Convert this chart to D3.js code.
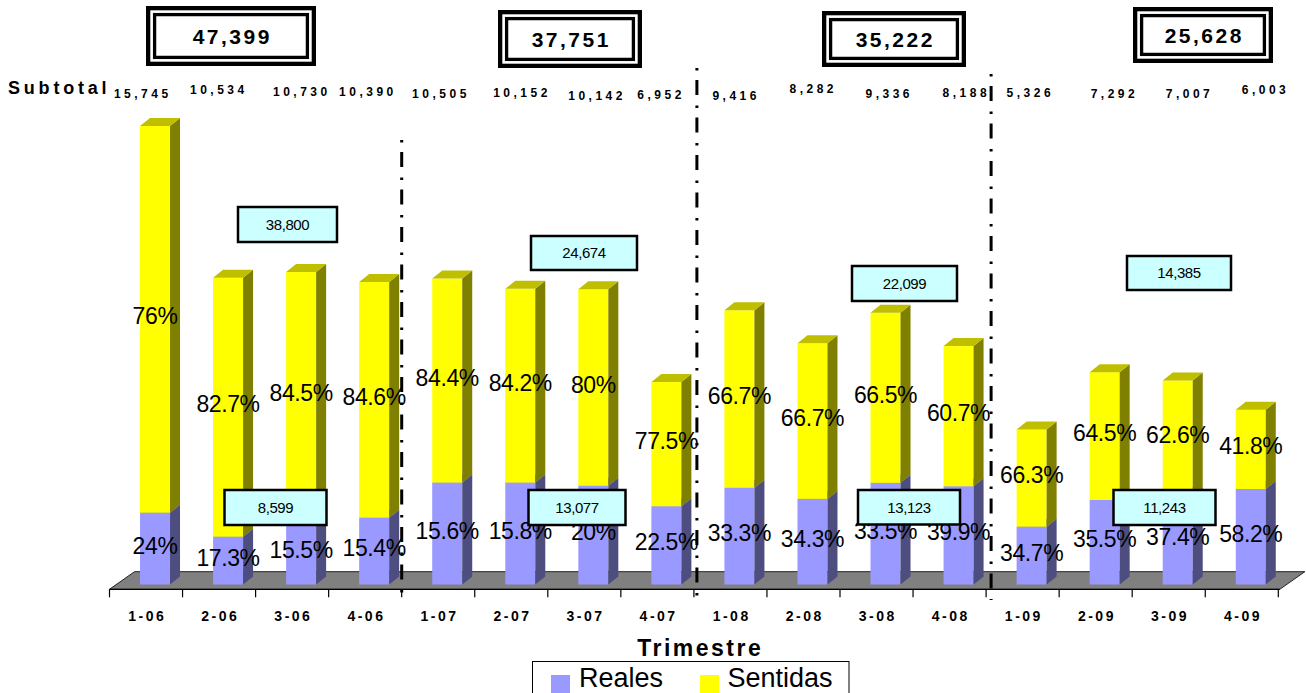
<!DOCTYPE html>
<html><head><meta charset="utf-8">
<script src="https://cdn.jsdelivr.net/npm/d3@7"></script>
<style>
html,body{margin:0;padding:0;background:#fff;overflow:hidden}
svg{display:block;font-family:"Liberation Sans",Arial,sans-serif}
</style></head><body>
<svg id="chart" width="1306" height="693"></svg>
<script>
// ---------------- DATA ----------------
const categories = ["1-06","2-06","3-06","4-06","1-07","2-07","3-07","4-07","1-08","2-08","3-08","4-08","1-09","2-09","3-09","4-09"];
const subtotals = [15745,10534,10730,10390,10505,10152,10142,6952,9416,8282,9336,8188,5326,7292,7007,6003];
const reales = [2466,1641,2198,2294,3500,3500,3390,2687,3320,2940,3490,3373,1985,2902,3076,3280];
const realesLabels = ["24%","17.3%","15.5%","15.4%","15.6%","15.8%","20%","22.5%","33.3%","34.3%","33.5%","39.9%","34.7%","35.5%","37.4%","58.2%"];
const sentidasLabels = ["76%","82.7%","84.5%","84.6%","84.4%","84.2%","80%","77.5%","66.7%","66.7%","66.5%","60.7%","66.3%","64.5%","62.6%","41.8%"];
const years = ["2006","2007","2008","2009"];
const yearTotals = [47399,37751,35222,25628];
const yearSentidas = [38800,24674,22099,14385];
const yearReales = [8599,13077,13123,11243];
const seriesNames = ["Reales","Sentidas"];

// ---------------- LAYOUT / STYLE ----------------
const axisY = 589.3, axisX0 = 109.5, axisX1 = 1278.3;
const barW = 30, depthX = 10, depthY = 8, barShift = 9, barBaseY = 584.5;
const floorDX = 25, floorDY = 17.6;
const colors = {
  Reales: {front:"#9999FF", side:"#4D4D80", top:"#7373BF"},
  Sentidas: {front:"#FFFF00", side:"#808000", top:"#BFBF00"}
};
const subtotalNudge = [[-5,93],[-2,89],[8,91],[1,91],[1,93],[9,92],[11,95],[2,94],[4,95],[8,88],[11,93],[15,92],[6,92],[17,93],[19,93],[22,89]];
const totalBoxLayout = [[146,6,170,60],[498,10,144,58],[822,11,144,56],[1133,7,140,56]];
const sentidasBoxLayout = [[238,207,99,35],[531,236,106,34],[852,266,105,35],[1127,256,104,34]];
const realesBoxLayout = [[224.5,490,102,35],[528.5,490,97,35],[858,490,102,34.5],[1113.5,490,102,35]];
const separators = [{after:4,dx:0,top:140},{after:8,dx:3,top:68},{after:12,dx:5,top:74}];

const fmt = d3.format(",");
const svg = d3.select("#chart");

const x = d3.scaleBand().domain(categories).range([axisX0, axisX1]).padding(0);
const y = d3.scaleLinear().domain([0,16000]).range([barBaseY, barBaseY - 16000*0.02912]);
const barLeft = c => x(c) + x.bandwidth()/2 + barShift - barW/2;

// floor
svg.append("polygon")
  .attr("points", [[axisX0,axisY],[axisX1+1.5,axisY],[axisX1+1.5+floorDX,axisY-floorDY],[axisX0+floorDX,axisY-floorDY]].map(p=>p.join(",")).join(" "))
  .attr("fill","#808080").attr("stroke","#222").attr("stroke-width",1);

// axis line + boundary ticks
svg.append("line").attr("x1",axisX0).attr("x2",axisX1+1.5).attr("y1",axisY).attr("y2",axisY)
  .attr("stroke","#000").attr("stroke-width",1.2);
const bounds = categories.map(c=>x(c)).concat([axisX1]);
svg.selectAll("line.tick").data(bounds).enter().append("line")
  .attr("x1",d=>d).attr("x2",d=>d).attr("y1",axisY).attr("y2",axisY+8)
  .attr("stroke","#000").attr("stroke-width",1.2);

// category labels via d3 axis
const axisG = svg.append("g").attr("transform",`translate(0,${axisY})`)
  .call(d3.axisBottom(x).tickSize(0).tickPadding(21.8));
axisG.select(".domain").remove();
axisG.selectAll("text").attr("font-family","'Liberation Sans',Arial,sans-serif")
  .attr("font-size",14).attr("font-weight","bold").attr("fill","#000")
  .style("letter-spacing","2.5px").attr("dx","1.25px");

// stacked 3D bars
const stackData = categories.map((c,i)=>({cat:c, Reales:reales[i], Sentidas:subtotals[i]-reales[i]}));
const stacked = d3.stack().keys(seriesNames)(stackData);
stacked.forEach(layer=>{
  const col = colors[layer.key];
  const g = svg.append("g");
  layer.forEach(d=>{
    const x0 = barLeft(d.data.cat), yT = y(d[1]), yB = y(d[0]);
    g.append("rect").attr("x",x0).attr("y",yT).attr("width",barW).attr("height",yB-yT).attr("fill",col.front);
    g.append("polygon").attr("fill",col.side)
      .attr("points",[[x0+barW,yB],[x0+barW+depthX,yB-depthY],[x0+barW+depthX,yT-depthY],[x0+barW,yT]].map(p=>p.join(",")).join(" "));
    g.append("polygon").attr("fill",col.top)
      .attr("points",[[x0,yT],[x0+depthX,yT-depthY],[x0+barW+depthX,yT-depthY],[x0+barW,yT]].map(p=>p.join(",")).join(" "));
  });
});

// separators
separators.forEach(s=>{
  const sx = x(categories[s.after]) + s.dx;
  svg.append("line").attr("x1",sx).attr("x2",sx).attr("y1",s.top).attr("y2",600)
    .attr("stroke","#000").attr("stroke-width",3).attr("stroke-dasharray","2.5,9.5,15,10.5");
});

// percentage labels
const labelG = svg.append("g").attr("font-size",23).attr("fill","#000").attr("text-anchor","middle");
stacked.forEach((layer,li)=>{
  const labels = li===0 ? realesLabels : sentidasLabels;
  layer.forEach((d,i)=>{
    labelG.append("text")
      .attr("x", barLeft(d.data.cat)+barW/2)
      .attr("y", (y(d[0])+y(d[1]))/2 - 3)
      .attr("dy","0.35em").style("letter-spacing","-0.4px")
      .text(labels[i]);
  });
});

// cyan year boxes
function cyanBox(layout, values){
  layout.forEach((b,i)=>{
    svg.append("rect").attr("x",b[0]).attr("y",b[1]).attr("width",b[2]).attr("height",b[3])
      .attr("fill","#CCFFFF").attr("stroke","#000").attr("stroke-width",2.5);
    svg.append("text").attr("x",b[0]+b[2]/2).attr("y",b[1]+b[3]/2).attr("dy","0.35em")
      .attr("text-anchor","middle").attr("font-size",15).attr("fill","#000")
      .style("letter-spacing","-0.4px").text(fmt(values[i]));
  });
}
cyanBox(sentidasBoxLayout, yearSentidas);
cyanBox(realesBoxLayout, yearReales);

// year total boxes (double frame)
totalBoxLayout.forEach((b,i)=>{
  const [bx,by,bw,bh] = b;
  svg.append("rect").attr("x",bx+2.15).attr("y",by+2.15).attr("width",bw-4.3).attr("height",bh-4.3)
    .attr("fill","#fff").attr("stroke","#000").attr("stroke-width",4.3);
  svg.append("rect").attr("x",bx+8.6).attr("y",by+8.6).attr("width",bw-17.2).attr("height",bh-17.2)
    .attr("fill","#fff").attr("stroke","#000").attr("stroke-width",3.3);
  svg.append("text").attr("x",bx+bw/2+1.25).attr("y",by+bh/2+7.5)
    .attr("text-anchor","middle").attr("font-size",21).attr("font-weight","bold")
    .style("letter-spacing","2.5px").text(fmt(yearTotals[i]));
});

// Subtotal row
svg.append("text").attr("x",8).attr("y",94).attr("font-size",18).attr("font-weight","bold")
  .style("letter-spacing","3.8px").text("Subtotal");
svg.selectAll("text.sub").data(subtotals).enter().append("text")
  .attr("x",(d,i)=>x(categories[i])+x.bandwidth()/2+subtotalNudge[i][0]+1.75)
  .attr("y",(d,i)=>subtotalNudge[i][1]+4.5)
  .attr("text-anchor","middle").attr("font-size",12).attr("font-weight","bold")
  .style("letter-spacing","3.5px").text(d=>fmt(d));

// axis title
svg.append("text").attr("x",699+1.25).attr("y",656).attr("text-anchor","middle")
  .attr("font-size",23).attr("font-weight","bold").style("letter-spacing","2.5px").text("Trimestre");

// legend
const lg = svg.append("g");
lg.append("rect").attr("x",532.5).attr("y",661.5).attr("width",316.5).attr("height",60)
  .attr("fill","#fff").attr("stroke","#000").attr("stroke-width",1);
const legendPos = [{sx:551, tx:579},{sx:700, tx:727.5}];
seriesNames.forEach((s,i)=>{
  lg.append("rect").attr("x",legendPos[i].sx).attr("y",675).attr("width",19).attr("height",19).attr("fill",colors[s].front);
  lg.append("text").attr("x",legendPos[i].tx).attr("y",686.5).attr("font-size",27).attr("fill","#000").text(s);
});
</script>
</body></html>
